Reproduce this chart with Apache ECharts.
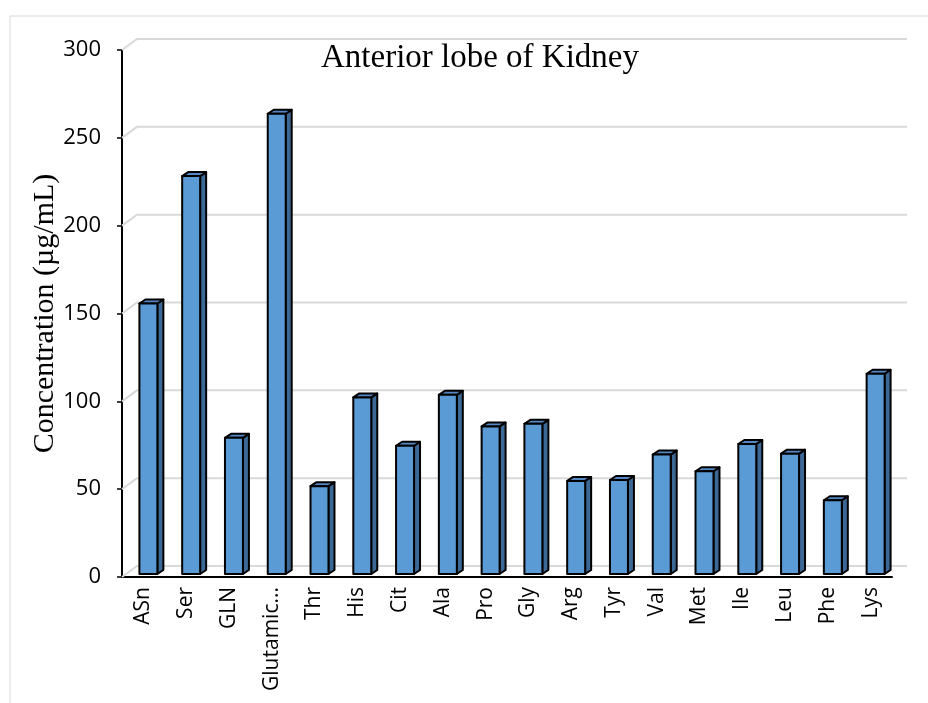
<!DOCTYPE html>
<html>
<head>
<meta charset="utf-8">
<script src="https://cdn.jsdelivr.net/npm/echarts@6/dist/echarts.min.js"></script>
<style>
  html, body { margin: 0; padding: 0; background: #fff; }
  #main { width: 928px; height: 703px; }
</style>
</head>
<body>
<div id="main"></div>
<script>
var aminoAcids = ['ASn', 'Ser', 'GLN', 'Glutamic...', 'Thr', 'His', 'Cit', 'Ala', 'Pro',
    'Gly', 'Arg', 'Tyr', 'Val', 'Met', 'Ile', 'Leu', 'Phe', 'Lys'];
var concentration = [154, 226.5, 77.5, 262, 50, 100.5, 73, 102, 84,
    85.5, 53, 53.5, 68, 58.5, 74, 68.5, 42, 114];
var yTicks = [0, 50, 100, 150, 200, 250, 300];

var chart = echarts.init(document.getElementById('main'));

// back wall offset of the fake 3d look
var wallDx = 15, wallDy = -11;

function renderWall(params, api) {
    var cs = params.coordSys;
    var p = api.coord([0, api.value(1)]);
    return {
        type: 'polyline',
        shape: {
            points: [
                [cs.x, p[1]],
                [cs.x + wallDx, p[1] + wallDy],
                [cs.x + cs.width + wallDx, p[1] + wallDy]
            ]
        },
        style: { stroke: '#d9d9d9', lineWidth: 2, fill: null },
        silent: true
    };
}

function renderBar(params, api) {
    var idx = api.value(0);
    var base = api.coord([idx, 0]);
    var top = api.coord([idx, api.value(1)]);
    var w = api.size([1, 0])[0] * 0.42;
    var x0 = base[0] + 5 - w / 2;
    var x1 = x0 + w;
    var yb = base[1] - 3;
    var yt = top[1] - 3;
    var dx = 6, dy = -4;
    var line = { stroke: '#000', lineWidth: 2, lineJoin: 'round' };
    return {
        type: 'group',
        children: [
            {
                type: 'polygon',
                shape: { points: [[x1, yb], [x1 + dx, yb + dy], [x1 + dx, yt + dy], [x1, yt]] },
                style: Object.assign({ fill: '#3c6895' }, line)
            },
            {
                type: 'polygon',
                shape: { points: [[x0, yt], [x1, yt], [x1 + dx, yt + dy], [x0 + dx, yt + dy]] },
                style: Object.assign({ fill: '#5587c2' }, line)
            },
            {
                type: 'rect',
                shape: { x: x0, y: yt, width: w, height: yb - yt },
                style: Object.assign({ fill: '#5b9bd5' }, line)
            }
        ]
    };
}

var option = {
    animation: false,
    graphic: [{
        type: 'rect',
        shape: { x: 10, y: 16, width: 940, height: 720 },
        style: { fill: null, stroke: '#d9d9d9', lineWidth: 1 },
        z: -10
    }],
    title: {
        text: 'Anterior lobe of Kidney',
        left: 475,
        textAlign: 'center',
        top: 37,
        textStyle: {
            fontFamily: 'Liberation Serif',
            fontSize: 33,
            fontWeight: 'normal',
            color: '#000'
        }
    },
    grid: { left: 122, top: 50, width: 770, height: 527 },
    xAxis: {
        type: 'category',
        data: aminoAcids,
        axisLine: { lineStyle: { color: '#000', width: 2 } },
        axisTick: { alignWithLabel: true, length: 5, lineStyle: { color: '#000', width: 1.5 } },
        axisLabel: {
            rotate: 90,
            margin: 10,
            interval: 0,
            fontFamily: 'Open Sans',
            fontSize: 21,
            color: '#000'
        }
    },
    yAxis: {
        type: 'value',
        min: 0,
        max: 300,
        interval: 50,
        name: 'Concentration (µg/mL)',
        nameLocation: 'middle',
        nameGap: 62,
        nameMoveOverlap: false,
        nameTextStyle: {
            fontFamily: 'Liberation Serif',
            fontSize: 30,
            color: '#000'
        },
        axisLine: { show: true, lineStyle: { color: '#000', width: 2 } },
        axisTick: { show: true, length: 5, lineStyle: { color: '#000', width: 1.5 } },
        splitLine: { show: false },
        axisLabel: {
            margin: 21,
            fontFamily: 'Open Sans',
            fontSize: 22,
            color: '#000'
        }
    },
    series: [
        {
            type: 'custom',
            renderItem: renderWall,
            data: yTicks.map(function (v) { return [0, v]; }),
            z: 1,
            silent: true
        },
        {
            type: 'custom',
            renderItem: renderBar,
            data: concentration.map(function (v, i) { return [i, v]; }),
            z: 2
        }
    ]
};
chart.setOption(option);
</script>
</body>
</html>
